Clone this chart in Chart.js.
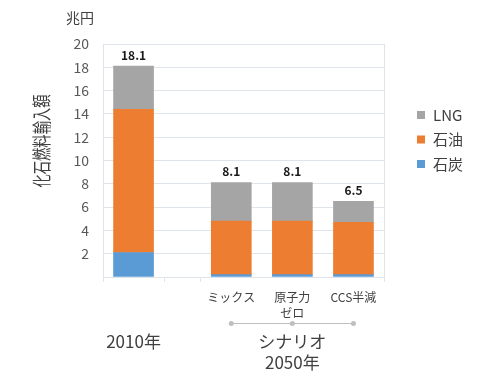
<!DOCTYPE html>
<html>
<head>
<meta charset="utf-8">
<script src="https://cdn.jsdelivr.net/npm/chart.js@4"></script>
<style>
  html, body { margin: 0; padding: 0; background: #fff; }
  #wrap { width: 480px; height: 380px; }
</style>
</head>
<body>
<div id="wrap"><canvas id="chart" width="480" height="380"></canvas></div>
<script>
// データ (兆円)
const categories = ['', 'ミックス', '原子力\nゼロ', 'CCS半減'];
const groupLabels = ['2010年', 'シナリオ\n2050年'];
const groupOf = [0, 1, 1, 1];
const coal = [2.1, 0.2, 0.2, 0.2];   // 石炭
const oil = [12.3, 4.6, 4.6, 4.5];   // 石油
const lng = [3.7, 3.3, 3.3, 1.8];    // LNG
const yTicks = [2, 4, 6, 8, 10, 12, 14, 16, 18, 20];

// 2010年と2050年の間の空き (カテゴリ幅に対する比)
const gap = 0.6;
const slotX = categories.map((c, i) => i === 0 ? 0.5 : 1 + gap + (i - 1) + 0.5);
const xMax = 1 + gap + (categories.length - 1);

const font = '"Noto Sans CJK JP", "Noto Sans", sans-serif';
const textColor = '#404040';
const gridColor = '#dfe4ea';

const toPoints = arr => arr.map((v, i) => ({ x: slotX[i], y: v }));

// 合計値, カテゴリ名, 凡例などを描く
const extras = {
  id: 'extras',
  afterDraw(chart) {
    const ctx = chart.ctx;
    const xs = chart.scales.x, ys = chart.scales.y;
    const area = chart.chartArea;
    ctx.save();

    // 右枠
    ctx.strokeStyle = gridColor;
    ctx.lineWidth = 1;
    ctx.beginPath();
    ctx.moveTo(Math.round(area.right) + 0.5, area.top);
    ctx.lineTo(Math.round(area.right) + 0.5, area.bottom);
    ctx.stroke();

    // 合計ラベル
    ctx.fillStyle = '#1a1a1a';
    ctx.font = '600 12px ' + font;
    ctx.textAlign = 'center';
    ctx.textBaseline = 'middle';
    categories.forEach((c, i) => {
      const total = coal[i] + oil[i] + lng[i];
      ctx.fillText(total.toFixed(1), xs.getPixelForValue(slotX[i]), ys.getPixelForValue(total) - 11);
    });

    // カテゴリ名
    ctx.fillStyle = textColor;
    ctx.font = '12px ' + font;
    categories.forEach((c, i) => {
      c.split('\n').forEach((line, k) => {
        ctx.fillText(line, xs.getPixelForValue(slotX[i]), 297 + k * 16);
      });
    });

    // グループ名
    groupLabels.forEach((g, gi) => {
      const idx = groupOf.map((v, i) => v === gi ? i : -1).filter(i => i >= 0);
      const x0 = xs.getPixelForValue(slotX[idx[0]]);
      const x1 = xs.getPixelForValue(slotX[idx[idx.length - 1]]);
      if (idx.length > 1) {
        ctx.strokeStyle = '#bfbfbf';
        ctx.beginPath();
        ctx.moveTo(x0, 323.5);
        ctx.lineTo(x1, 323.5);
        ctx.stroke();
        ctx.fillStyle = '#bfbfbf';
        idx.forEach(i => {
          ctx.beginPath();
          ctx.arc(xs.getPixelForValue(slotX[i]), 323.5, 2.5, 0, Math.PI * 2);
          ctx.fill();
        });
      }
      ctx.fillStyle = textColor;
      ctx.font = '17px ' + font;
      g.split('\n').forEach((line, k) => {
        ctx.fillText(line, (x0 + x1) / 2, 342 + k * 21);
      });
    });

    // 単位
    ctx.font = '14px ' + font;
    ctx.fillStyle = textColor;
    ctx.fillText('兆円', 80, 18);

    // 縦軸タイトル
    ctx.save();
    ctx.translate(42, 141);
    ctx.rotate(-Math.PI / 2);
    ctx.scale(0.7, 1);
    ctx.font = '19px ' + font;
    ctx.fillText('化石燃料輸入額', 0, 0);
    ctx.restore();

    // 凡例 (上から LNG, 石油, 石炭)
    const sets = chart.data.datasets.slice().reverse();
    ctx.font = '15px ' + font;
    ctx.textAlign = 'left';
    sets.forEach((ds, k) => {
      const y = 115 + k * 24.5;
      ctx.fillStyle = ds.backgroundColor;
      ctx.fillRect(417, y - 4, 8, 8);
      ctx.fillStyle = textColor;
      ctx.fillText(ds.label, 433, y);
    });

    ctx.restore();
  }
};

new Chart(document.getElementById('chart'), {
  type: 'bar',
  data: {
    datasets: [
      { label: '石炭', data: toPoints(coal), backgroundColor: '#5b9bd5' },
      { label: '石油', data: toPoints(oil), backgroundColor: '#ed7d31' },
      { label: 'LNG', data: toPoints(lng), backgroundColor: '#a5a5a5' }
    ]
  },
  options: {
    responsive: false,
    animation: false,
    layout: { padding: { top: 44, right: 96, left: 0, bottom: 0 } },
    datasets: { bar: { barThickness: 40, borderWidth: 0 } },
    plugins: { legend: { display: false }, tooltip: { enabled: false } },
    scales: {
      x: {
        type: 'linear',
        stacked: true,
        offset: false,
        min: 0,
        max: xMax,
        afterBuildTicks: s => { s.ticks = [0, 1, 1 + gap, xMax].map(v => ({ value: v })); },
        afterFit: s => { s.height = 103; },
        ticks: { display: false },
        grid: { offset: false, drawOnChartArea: false, drawTicks: true, tickLength: 5, color: gridColor },
        border: { color: gridColor }
      },
      y: {
        stacked: true,
        min: 0,
        max: 20,
        afterBuildTicks: s => { s.ticks = [0].concat(yTicks).map(v => ({ value: v })); },
        afterFit: s => { s.width = 103; },
        ticks: {
          callback: v => v === 0 ? '' : v,
          color: '#595959',
          font: { family: font, size: 14 },
          padding: 14
        },
        grid: { color: gridColor, drawTicks: false },
        border: { color: gridColor }
      }
    }
  },
  plugins: [extras]
});
</script>
</body>
</html>
